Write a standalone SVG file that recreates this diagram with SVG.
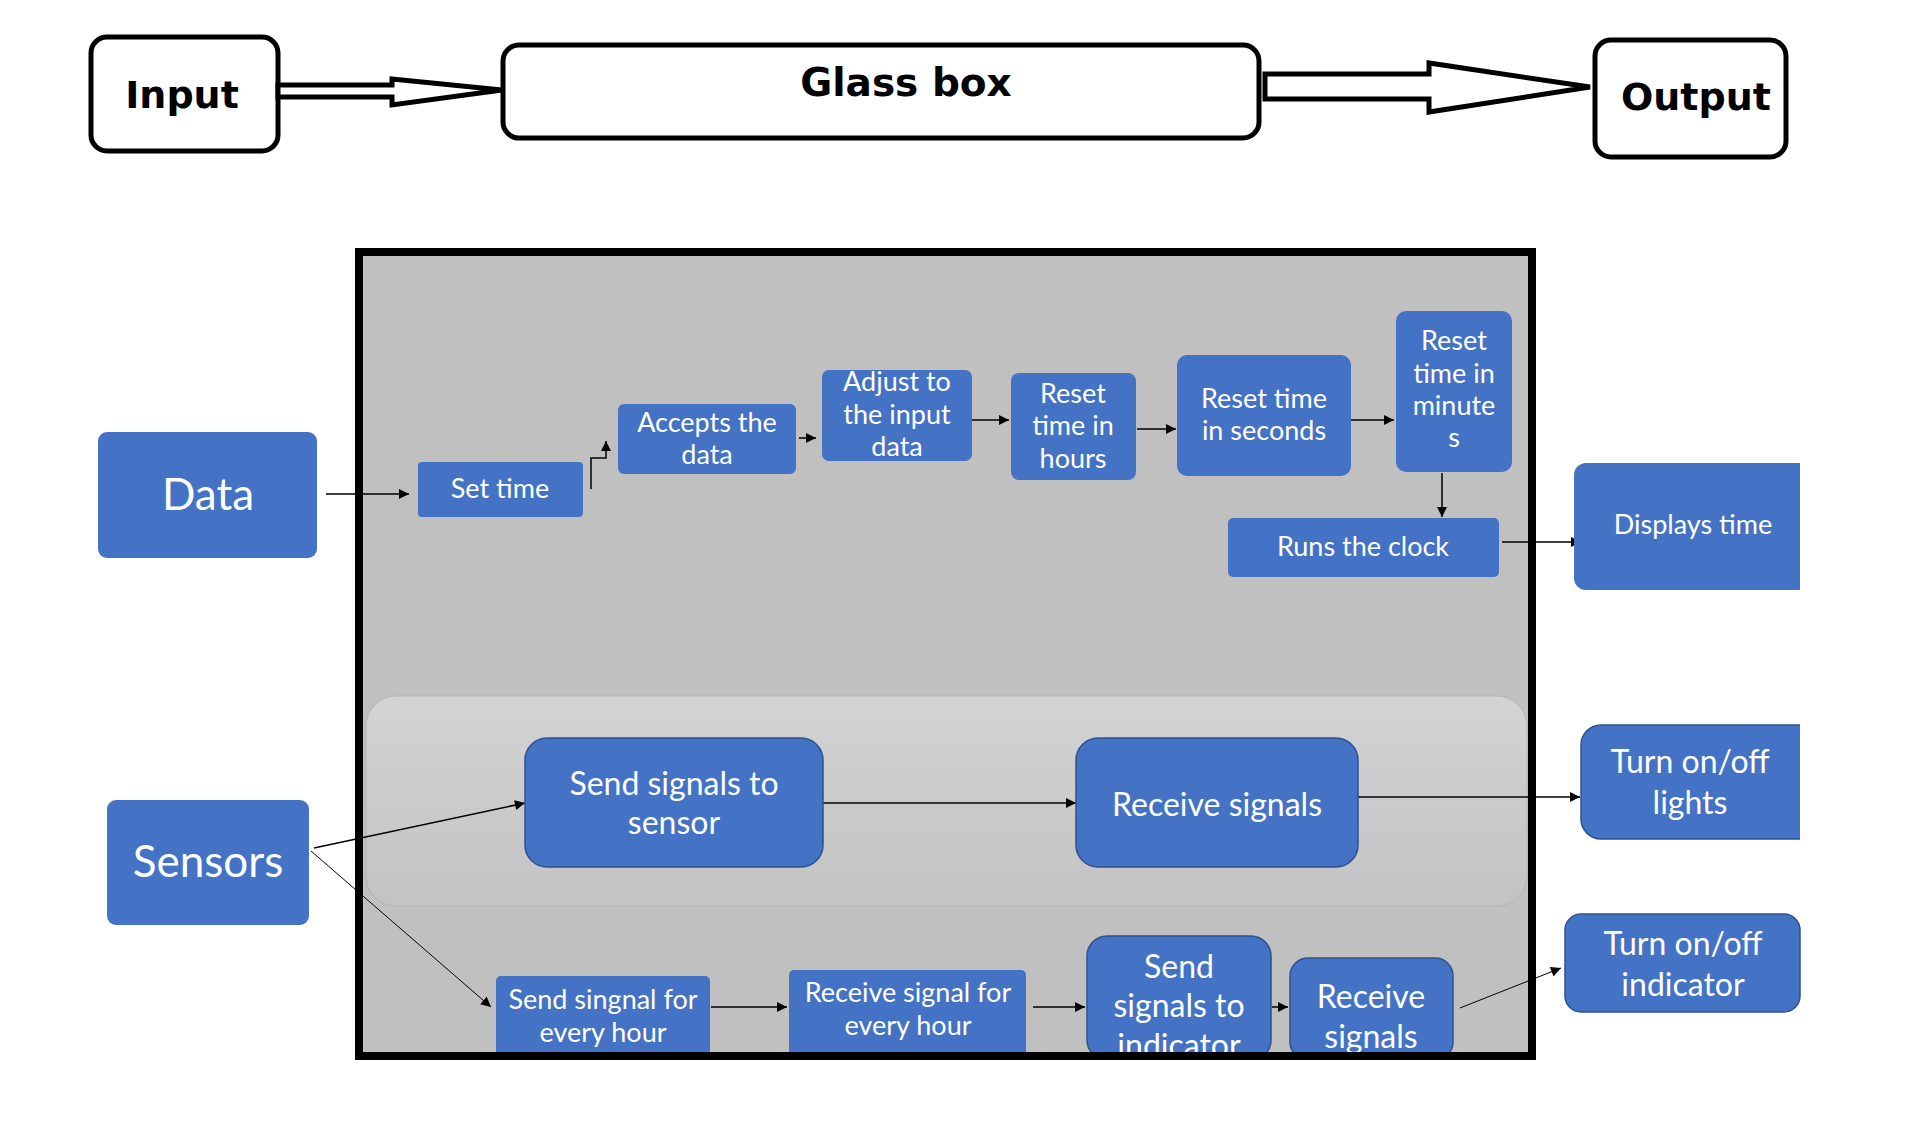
<svg xmlns="http://www.w3.org/2000/svg" width="1907" height="1133" viewBox="0 0 1907 1133">
<style>
.top{fill:#fff;stroke:#000;stroke-width:5}
.ttl{font-family:"DejaVu Sans",sans-serif;font-weight:bold;font-size:38px;fill:#000;text-anchor:middle}
.b{fill:#4472c4}
.bs{fill:#4472c4;stroke:#2f528f;stroke-width:1.5}
.t{font-family:Lato,"Liberation Sans",sans-serif;fill:#fff;text-anchor:middle}
.s27{font-size:27px}
.s32{font-size:32px}
.s44{font-size:44px}
.c{fill:none;stroke:#000;stroke-width:1.5}
.ct{fill:none;stroke:#000;stroke-width:1}
</style>
<defs>
<marker id="ah" viewBox="0 0 10 10" refX="10" refY="5" markerWidth="11" markerHeight="10" markerUnits="userSpaceOnUse" orient="auto">
<path d="M0,0 L10,5 L0,10 z" fill="#000"/>
</marker>
<linearGradient id="inner" x1="0" y1="0" x2="0" y2="1">
<stop offset="0" stop-color="#d3d3d3"/>
<stop offset="1" stop-color="#c3c3c3"/>
</linearGradient>
<clipPath id="rclip"><rect x="0" y="0" width="1800" height="1133"/></clipPath>
</defs>
<rect width="1907" height="1133" fill="#fff"/>

<g id="input"><rect class="top" x="91" y="37" width="187" height="114" rx="16"/><text class="ttl" x="182" y="108">Input</text></g>
<g id="glassbox"><rect class="top" x="503" y="45" width="756" height="93" rx="16"/><text class="ttl" x="906" y="96" style="font-size:39px">Glass box</text></g>
<g id="output"><rect class="top" x="1595" y="40" width="191" height="117" rx="16"/><text class="ttl" x="1696" y="110">Output</text></g>

<g id="glass-area">
<rect x="359" y="252" width="1173" height="804" fill="#c0c0c0"/>
<rect x="366" y="696" width="1161" height="210" rx="30" fill="url(#inner)" stroke="#b4b4b4" stroke-width="1"/>
</g>

<g id="connectors">
<polygon class="top" points="278,85 392,85 392,79 502,90 392,105 392,97 278,97"/>
<polygon class="top" points="1265,74 1429,74 1429,63 1590,87 1429,112 1429,99 1265,99"/>
<line class="c" x1="326" y1="494" x2="409" y2="494" marker-end="url(#ah)"/>
<path class="c" d="M591,489 V458 H606 V441" marker-end="url(#ah)"/>
<line class="c" x1="799" y1="438" x2="816" y2="438" marker-end="url(#ah)"/>
<line class="c" x1="972" y1="420" x2="1009" y2="420" marker-end="url(#ah)"/>
<line class="c" x1="1137" y1="429" x2="1176" y2="429" marker-end="url(#ah)"/>
<line class="c" x1="1351" y1="420" x2="1394" y2="420" marker-end="url(#ah)"/>
<line class="c" x1="1442" y1="473" x2="1442" y2="517" marker-end="url(#ah)"/>
<line class="c" x1="1502" y1="542" x2="1581" y2="542" marker-end="url(#ah)"/>
<line class="c" x1="314" y1="848" x2="525" y2="803" marker-end="url(#ah)"/>
<line class="ct" x1="311" y1="851" x2="491" y2="1007" marker-end="url(#ah)"/>
<line class="c" x1="823" y1="803" x2="1076" y2="803" marker-end="url(#ah)"/>
<line class="c" x1="1358" y1="797" x2="1580" y2="797" marker-end="url(#ah)"/>
<line class="c" x1="711" y1="1007" x2="787" y2="1007" marker-end="url(#ah)"/>
<line class="c" x1="1033" y1="1007" x2="1085" y2="1007" marker-end="url(#ah)"/>
<line class="c" x1="1272" y1="1007" x2="1288" y2="1007" marker-end="url(#ah)"/>
<line class="ct" x1="1460" y1="1008" x2="1561" y2="968" marker-end="url(#ah)"/>
</g>

<g id="data"><rect class="b" x="98" y="432" width="219" height="126" rx="9"/><text class="t s44" x="208" y="510">Data</text></g>
<g id="sensors"><rect class="b" x="107" y="800" width="202" height="125" rx="9"/><text class="t s44" x="208" y="877">Sensors</text></g>

<g id="set-time"><rect class="b" x="418" y="462" width="165" height="55" rx="4"/><text class="t s27" x="500" y="498">Set time</text></g>
<g id="accepts"><rect class="b" x="618" y="404" width="178" height="70" rx="6"/><text class="t s27" x="707" y="432">Accepts the</text><text class="t s27" x="707" y="464">data</text></g>
<g id="adjust"><rect class="b" x="822" y="370" width="150" height="91" rx="7"/><text class="t s27" x="897" y="391">Adjust to</text><text class="t s27" x="897" y="424">the input</text><text class="t s27" x="897" y="456">data</text></g>
<g id="reset-hours"><rect class="b" x="1011" y="373" width="125" height="107" rx="8"/><text class="t s27" x="1073" y="403">Reset</text><text class="t s27" x="1073" y="435">time in</text><text class="t s27" x="1073" y="468">hours</text></g>
<g id="reset-seconds"><rect class="b" x="1177" y="355" width="174" height="121" rx="10"/><text class="t s27" x="1264" y="408">Reset time</text><text class="t s27" x="1264" y="440">in seconds</text></g>
<g id="reset-minutes"><rect class="b" x="1396" y="311" width="116" height="161" rx="10"/><text class="t s27" x="1454" y="350">Reset</text><text class="t s27" x="1454" y="383">time in</text><text class="t s27" x="1454" y="415">minute</text><text class="t s27" x="1454" y="447">s</text></g>
<g id="runs-clock"><rect class="b" x="1228" y="518" width="271" height="59" rx="5"/><text class="t s27" x="1363" y="556">Runs the clock</text></g>
<g id="displays-time" clip-path="url(#rclip)"><rect class="b" x="1574" y="463" width="250" height="127" rx="12"/><text class="t s27" x="1693" y="534">Displays time</text></g>

<g id="send-sensor"><rect class="bs" x="525" y="738" width="298" height="129" rx="22"/><text class="t s32" x="674" y="795">Send signals to</text><text class="t s32" x="674" y="834">sensor</text></g>
<g id="receive-signals"><rect class="bs" x="1076" y="738" width="282" height="129" rx="22"/><text class="t s32" x="1217" y="816">Receive signals</text></g>
<g id="turn-lights" clip-path="url(#rclip)"><rect class="bs" x="1581" y="725" width="240" height="114" rx="20"/><text class="t s32" x="1690" y="773">Turn on/off</text><text class="t s32" x="1690" y="814">lights</text></g>
<g id="turn-indicator"><rect class="bs" x="1565" y="914" width="235" height="98" rx="16"/><text class="t s32" x="1683" y="955">Turn on/off</text><text class="t s32" x="1683" y="996">indicator</text></g>

<g id="send-hour"><rect class="b" x="496" y="976" width="214" height="84" rx="5"/><text class="t s27" x="603" y="1009">Send singnal for</text><text class="t s27" x="603" y="1042">every hour</text></g>
<g id="receive-hour"><rect class="b" x="789" y="970" width="237" height="90" rx="5"/><text class="t s27" x="908" y="1002">Receive signal for</text><text class="t s27" x="908" y="1035">every hour</text></g>
<g id="send-indicator"><rect class="bs" x="1087" y="936" width="184" height="124" rx="20"/><text class="t s32" x="1179" y="978">Send</text><text class="t s32" x="1179" y="1017">signals to</text><text class="t s32" x="1179" y="1057">indicator</text></g>
<g id="receive-lower"><rect class="bs" x="1290" y="958" width="163" height="102" rx="18"/><text class="t s32" x="1371" y="1008">Receive</text><text class="t s32" x="1371" y="1048">signals</text></g>

<g id="glass-border">
<rect x="359" y="252" width="1173" height="804" fill="none" stroke="#000" stroke-width="8"/>
<rect x="355" y="1060" width="1181" height="73" fill="#fff"/>
</g>
</svg>
